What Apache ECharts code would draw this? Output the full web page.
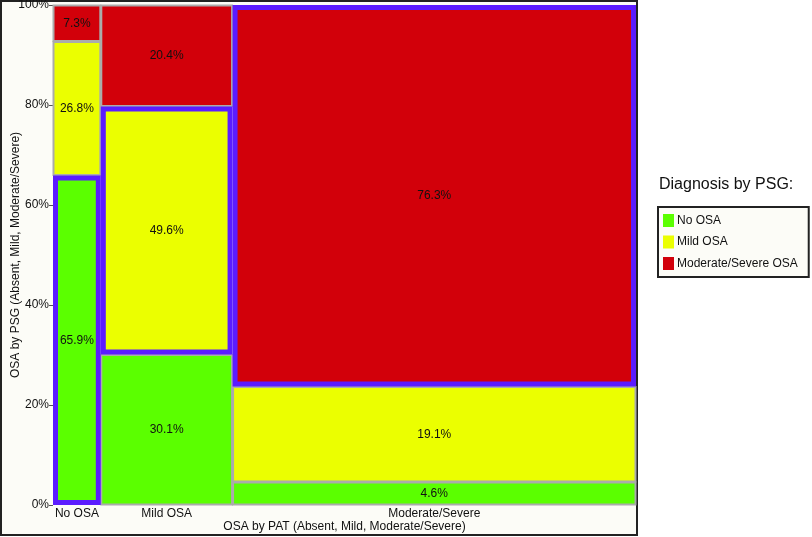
<!DOCTYPE html>
<html>
<head>
<meta charset="utf-8">
<script src="https://cdn.jsdelivr.net/npm/echarts@6/dist/echarts.min.js"></script>
<style>
  html, body { margin: 0; padding: 0; background: #ffffff; }
  #chart { width: 812px; height: 537px; }
</style>
</head>
<body>
<div id="chart"></div>
<script>
// ---- data ----
const patCategories = ['No OSA', 'Mild OSA', 'Moderate/Severe'];        // x columns (OSA by PAT)
const patShares = [8.2, 22.6, 69.2];                                     // column widths, % of total
const psgCategories = ['No OSA', 'Mild OSA', 'Moderate/Severe OSA'];    // stacked groups (PSG)
const noOsaPct = [65.9, 30.1, 4.6];
const mildOsaPct = [26.8, 49.6, 19.1];
const modSevPct = [7.3, 20.4, 76.3];
const yTickValues = [0, 20, 40, 60, 80, 100];

const FONT = '"Liberation Sans", Arial, Helvetica, sans-serif';
const colors = ['#5BFF00', '#EBFF00', '#D2000A'];
const highlightColor = '#5B1CFF';
const cellBorder = '#ABABAB';

// column boundaries
const colStart = [];
const colEnd = [];
let acc = 0;
patShares.forEach(s => { colStart.push(acc); acc += s; colEnd.push(acc); });
const colCenter = colStart.map((s, i) => (s + colEnd[i]) / 2);

const groups = [noOsaPct, mildOsaPct, modSevPct];
const cumBase = patCategories.map(() => 0);
const seriesData = groups.map((vals, g) => vals.map((v, c) => {
  const y0 = cumBase[c];
  const y1 = Math.min(100, y0 + v);
  cumBase[c] = y0 + v;
  return [colStart[c], colEnd[c], y0, y1, v, c];
}));

function renderCell(params, api) {
  const x0 = api.value(0), x1 = api.value(1), y0 = api.value(2), y1 = api.value(3);
  const pct = api.value(4), col = api.value(5);
  const tl = api.coord([x0, y1]);
  const br = api.coord([x1, y0]);
  const highlighted = col === params.seriesIndex;
  const inset = highlighted ? 2.5 : 0.5;
  const x = tl[0] + inset, y = tl[1] + inset;
  const w = br[0] - tl[0] - 2 * inset, h = br[1] - tl[1] - 2 * inset;
  return {
    type: 'group',
    children: [
      {
        type: 'rect',
        shape: { x: x, y: y, width: w, height: h },
        style: {
          fill: colors[params.seriesIndex],
          stroke: highlighted ? highlightColor : cellBorder,
          lineWidth: highlighted ? 5 : 2
        },
        z2: highlighted ? 10 : 0
      },
      {
        type: 'text',
        style: {
          text: pct.toFixed(1) + '%',
          x: (tl[0] + br[0]) / 2,
          y: (tl[1] + br[1]) / 2,
          align: 'center',
          verticalAlign: 'middle',
          fontSize: 12,
          fontFamily: FONT,
          fill: '#111111'
        },
        z2: 20
      }
    ]
  };
}

const chart = echarts.init(document.getElementById('chart'), null, { renderer: 'canvas' });
chart.setOption({
  animation: false,
  backgroundColor: '#ffffff',
  graphic: [{
    type: 'rect',
    z: -100,
    shape: { x: 1, y: 1, width: 636, height: 534 },
    style: { fill: '#FCFCF7', stroke: '#222222', lineWidth: 2 }
  }],
  title: {
    text: 'Diagnosis by PSG:',
    left: 659,
    top: 177,
    padding: 0,
    textStyle: { fontSize: 16, fontWeight: 'normal', color: '#111111', fontFamily: FONT }
  },
  legend: {
    orient: 'vertical',
    left: 658,
    top: 207,
    padding: [7, 11, 7, 5],
    itemWidth: 11,
    itemHeight: 13,
    itemGap: 8.5,
    icon: 'rect',
    borderColor: '#222222',
    borderWidth: 2,
    backgroundColor: '#FCFCF7',
    selectedMode: false,
    data: psgCategories,
    textStyle: { fontSize: 12, color: '#111111', fontFamily: FONT, padding: [0, 0, 0, -2] }
  },
  grid: { left: 53, right: 176, top: 5, bottom: 32, containLabel: false, outerBoundsMode: 'none' },
  xAxis: {
    type: 'value',
    min: 0,
    max: 100,
    name: 'OSA by PAT (Absent, Mild, Moderate/Severe)',
    nameLocation: 'middle',
    nameGap: 16,
    nameMoveOverlap: false,
    nameTextStyle: { fontSize: 12, color: '#111111', fontFamily: FONT },
    axisLine: { show: false },
    axisTick: { show: false },
    splitLine: { show: false },
    axisLabel: {
      customValues: colCenter,
      margin: 3,
      fontSize: 12,
      color: '#111111',
      fontFamily: FONT,
      formatter: function (v) {
        let best = 0;
        colCenter.forEach((c, i) => { if (Math.abs(c - v) < Math.abs(colCenter[best] - v)) best = i; });
        return patCategories[best];
      }
    }
  },
  yAxis: {
    type: 'value',
    min: 0,
    max: 100,
    interval: 20,
    name: 'OSA by PSG (Absent, Mild, Moderate/Severe)',
    nameLocation: 'middle',
    nameGap: 31,
    nameRotate: 90,
    nameMoveOverlap: false,
    nameTextStyle: { fontSize: 12, color: '#111111', fontFamily: FONT },
    axisLine: { show: false },
    axisTick: { show: true, length: 4, lineStyle: { color: '#555555' } },
    splitLine: { show: false },
    axisLabel: {
      customValues: yTickValues,
      margin: 4,
      fontSize: 12,
      color: '#111111',
      fontFamily: FONT,
      formatter: '{value}%'
    }
  },
  series: psgCategories.map((name, g) => ({
    type: 'custom',
    name: name,
    renderItem: renderCell,
    itemStyle: { color: colors[g] },
    encode: { x: [0, 1], y: [2, 3] },
    data: seriesData[g],
    clip: false
  }))
});
</script>
</body>
</html>
